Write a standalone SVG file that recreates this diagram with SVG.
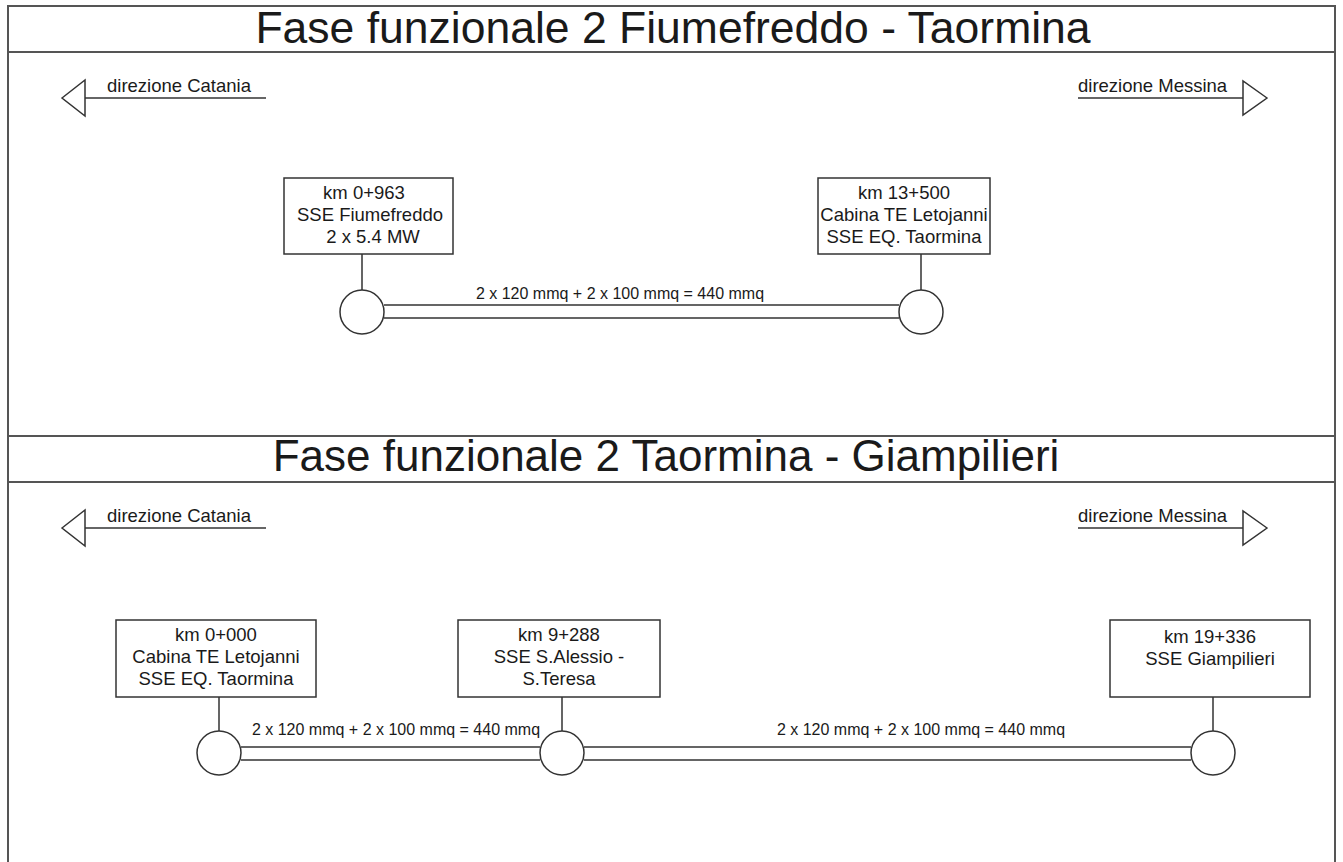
<svg xmlns="http://www.w3.org/2000/svg" width="1343" height="862" viewBox="0 0 1343 862">
<style>
.frame{fill:none;stroke:#555;stroke-width:2}
.ln{fill:none;stroke:#333;stroke-width:1.5}
.box{fill:#fff;stroke:#333;stroke-width:1.5}
.t{font-family:"Liberation Sans",Arial,sans-serif;fill:#1a1a1a}
.title{font-size:44px;text-anchor:middle}
.lbl{font-size:18.5px;text-anchor:middle}
.dir{font-size:18.5px}
.cab{font-size:16px;text-anchor:middle}
</style>
<rect width="1343" height="862" fill="#fff"/>
<g id="frame">
<path class="frame" d="M8,862 V6 H1335 V862 M8,52 H1335 M8,436 H1335 M8,482 H1335"/>
</g>
<g id="title1"><text class="t title" x="673" y="43" style="font-size:44.5px">Fase funzionale 2 Fiumefreddo - Taormina</text></g>
<g id="title2"><text class="t title" x="666" y="471">Fase funzionale 2 Taormina - Giampilieri</text></g>
<g id="dir-catania-1">
<path class="ln" d="M85,98 H266"/><polygon class="ln" points="62,98 85,80 85,116"/>
<text class="t dir" x="107" y="92">direzione Catania</text>
</g>
<g id="dir-messina-1">
<path class="ln" d="M1078,98 H1243"/><polygon class="ln" points="1267,98 1243,81 1243,115"/>
<text class="t dir" x="1078" y="92">direzione Messina</text>
</g>
<g id="dir-catania-2">
<path class="ln" d="M85,528 H266"/><polygon class="ln" points="62,528 85,510 85,546"/>
<text class="t dir" x="107" y="522">direzione Catania</text>
</g>
<g id="dir-messina-2">
<path class="ln" d="M1078,528 H1243"/><polygon class="ln" points="1267,528 1243,511 1243,545"/>
<text class="t dir" x="1078" y="522">direzione Messina</text>
</g>
<g id="connectors">
<path class="ln" d="M384,305 H899 M384,318 H899"/>
<path class="ln" d="M362,254 V290 M921,254 V290"/>
<path class="ln" d="M241,747 H540 M241,760 H540 M584,747 H1191 M584,760 H1191"/>
<path class="ln" d="M219,697 V731 M562,697 V731 M1213,697 V731"/>
<text class="t cab" x="620" y="299">2 x 120 mmq + 2 x 100 mmq = 440 mmq</text>
<text class="t cab" x="396" y="735">2 x 120 mmq + 2 x 100 mmq = 440 mmq</text>
<text class="t cab" x="921" y="735">2 x 120 mmq + 2 x 100 mmq = 440 mmq</text>
</g>
<g id="n-fiumefreddo">
<rect class="box" x="284" y="178" width="169" height="76"/>
<text class="t lbl" x="364" y="199">km 0+963</text>
<text class="t lbl" x="370" y="221">SSE Fiumefreddo</text>
<text class="t lbl" x="373" y="243">2 x 5.4 MW</text>
<circle class="box" cx="362" cy="312" r="22"/>
</g>
<g id="n-letojanni-1">
<rect class="box" x="818" y="178" width="172" height="76"/>
<text class="t lbl" x="904" y="199">km 13+500</text>
<text class="t lbl" x="904" y="221">Cabina TE Letojanni</text>
<text class="t lbl" x="904" y="243">SSE EQ. Taormina</text>
<circle class="box" cx="921" cy="312" r="22"/>
</g>
<g id="n-letojanni-2">
<rect class="box" x="116" y="620" width="200" height="77"/>
<text class="t lbl" x="216" y="641">km 0+000</text>
<text class="t lbl" x="216" y="663">Cabina TE Letojanni</text>
<text class="t lbl" x="216" y="685">SSE EQ. Taormina</text>
<circle class="box" cx="219" cy="753" r="22"/>
</g>
<g id="n-alessio">
<rect class="box" x="458" y="620" width="202" height="77"/>
<text class="t lbl" x="559" y="641">km 9+288</text>
<text class="t lbl" x="559" y="663">SSE S.Alessio -</text>
<text class="t lbl" x="559" y="685">S.Teresa</text>
<circle class="box" cx="562" cy="753" r="22"/>
</g>
<g id="n-giampilieri">
<rect class="box" x="1110" y="620" width="200" height="77"/>
<text class="t lbl" x="1210" y="643">km 19+336</text>
<text class="t lbl" x="1210" y="665">SSE Giampilieri</text>
<circle class="box" cx="1213" cy="753" r="22"/>
</g>
</svg>
